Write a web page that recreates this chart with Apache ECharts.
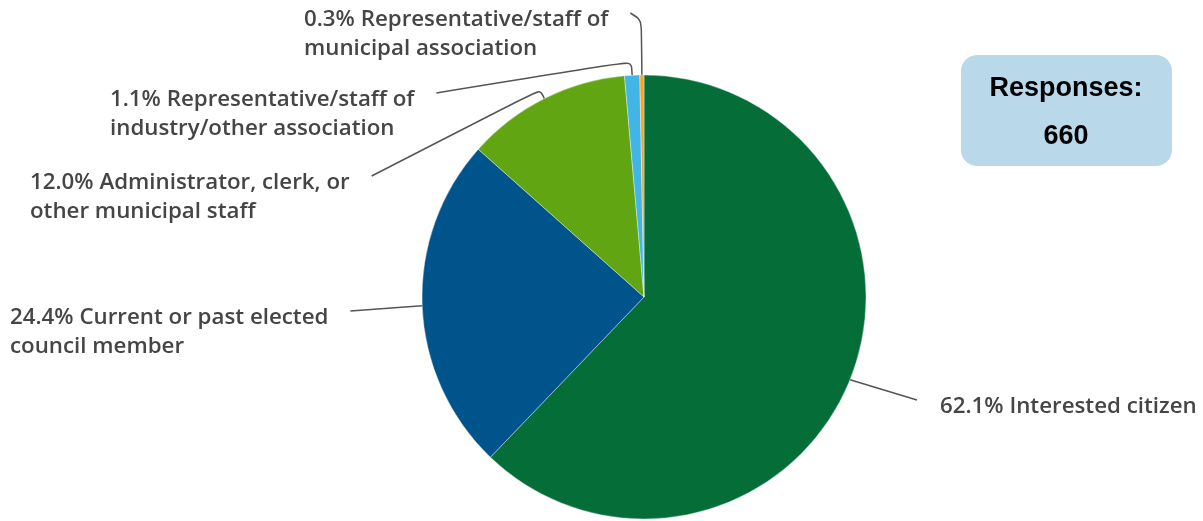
<!DOCTYPE html>
<html><head><meta charset="utf-8">
<script src="https://cdn.jsdelivr.net/npm/echarts@6/dist/echarts.min.js"></script>
<style>html,body{margin:0;padding:0;background:#fff}#c{width:1203px;height:521px}</style>
</head><body><div id="c"></div>
<script>
// ---- data ----
const categories = [
  'Interested citizen',
  'Current or past elected council member',
  'Administrator, clerk, or other municipal staff',
  'Representative/staff of industry/other association',
  'Representative/staff of municipal association'
];
const values = [62.1, 24.4, 12.0, 1.1, 0.3];
const labelLines = [
  ['Interested citizen'],
  ['Current or past elected', 'council member'],
  ['Administrator, clerk, or', 'other municipal staff'],
  ['Representative/staff of', 'industry/other association'],
  ['Representative/staff of', 'municipal association']
];
const responsesLabel = 'Responses:';
const responsesCount = 660;

// ---- styling / layout ----
const colors = ['#056e38', '#00548c', '#62a512', '#41b6e6', '#f5a623'];
const labelPos = [[940, 392], [10, 303], [30, 168], [110, 85], [304, 5]];
const lineLen = [0, 0, 10, 14, 55];
const pieCenter = [644, 297];

const chart = echarts.init(document.getElementById('c'), null, {renderer: 'canvas'});
chart.setOption({
  animation: false,
  backgroundColor: '#ffffff',
  series: [{
    type: 'pie',
    center: pieCenter,
    radius: 222,
    startAngle: 90,
    clockwise: true,
    avoidLabelOverlap: false,
    itemStyle: {borderColor: 'rgba(255,255,255,0.6)', borderWidth: 0.6},
    label: {
      show: true,
      position: 'outside',
      fontFamily: 'Open Sans',
      fontWeight: 600,
      fontSize: 22.3,
      lineHeight: 29,
      color: '#454545',
      formatter: function (p) {
        return p.value.toFixed(1) + '% ' + labelLines[p.dataIndex].join('\n');
      }
    },
    labelLine: {show: true, smooth: 0.3, lineStyle: {color: '#555', width: 1.5}},
    labelLayout: function (p) {
      const i = p.dataIndex;
      const x = labelPos[i][0], y = labelPos[i][1];
      const w = p.labelRect.width;
      const pts = p.labelLinePoints;
      const endY = y + 8;
      const end = x < pieCenter[0] ? [x + w + 22, endY] : [x - 23, endY];
      const linePts = lineLen[i] > 0 ? [pts[0], pts[1], end] : [pts[0], end];
      return {x: x, y: y, align: 'left', verticalAlign: 'top', labelLinePoints: linePts};
    },
    emphasis: {disabled: true},
    data: values.map(function (v, i) {
      return {
        name: categories[i], value: v,
        itemStyle: {color: colors[i]},
        labelLine: {length: lineLen[i]}
      };
    })
  }],
  graphic: [
    {type: 'rect', shape: {x: 961, y: 55, width: 211, height: 111, r: 16}, style: {fill: '#b9d9eb'}},
    {type: 'text', x: 1066, y: 89, style: {text: responsesLabel, textAlign: 'center', textVerticalAlign: 'middle', font: 'bold 27px "Liberation Sans", Arial, sans-serif', fill: '#000'}},
    {type: 'text', x: 1066, y: 137, style: {text: String(responsesCount), textAlign: 'center', textVerticalAlign: 'middle', font: 'bold 27px "Liberation Sans", Arial, sans-serif', fill: '#000'}}
  ]
});
</script></body></html>
